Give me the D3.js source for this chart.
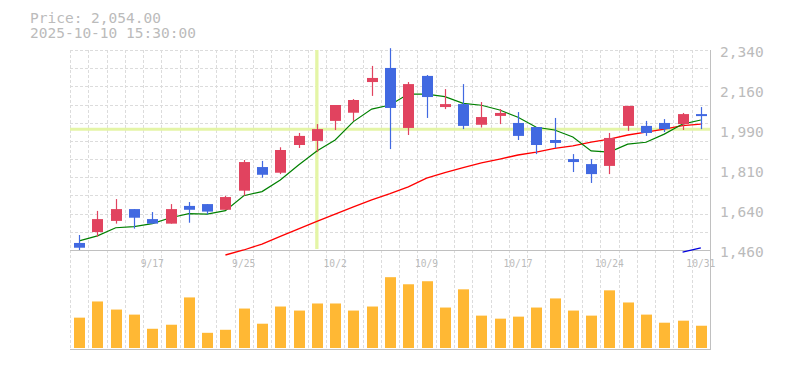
<!DOCTYPE html>
<html>
<head>
<meta charset="utf-8">
<script src="https://cdn.jsdelivr.net/npm/d3@7"></script>
<style>
  body { margin: 0; background: #fff; }
  text { font-family: "DejaVu Sans Mono", "Liberation Mono", monospace; fill: #bbbbbb; }
</style>
</head>
<body>
<svg id="chart"></svg>
<script>
// trading days
var dates = ["9/10","9/11","9/12","9/16","9/17","9/18","9/19","9/22","9/24","9/25","9/26","9/29","9/30",
    "10/1","10/2","10/3","10/6","10/7","10/8","10/9","10/10","10/14","10/15","10/16","10/17",
    "10/20","10/21","10/22","10/23","10/24","10/27","10/28","10/29","10/30","10/31"];

var open  = [1491,1539,1588,1640,1596,1576,1654,1662,1637,1721,1825,1800,1922,1940,2028,2064,2199,2261,1997,2226,2089,2102,2011,2050,2019,2001,1944,1860,1838,1830,2006,2006,2019,2014,2058];
var high  = [1526,1632,1684,1640,1627,1662,1671,1662,1698,1856,1852,1912,1975,2014,2098,2124,2270,2348,2199,2230,2168,2190,2111,2080,2067,2001,2041,1882,1860,1975,2094,2028,2036,2063,2089];
var low   = [1460,1519,1576,1554,1576,1576,1580,1617,1637,1699,1778,1794,1909,1891,1988,2028,2138,1904,1966,2041,2080,1992,1999,2014,1944,1882,1909,1803,1755,1794,1984,1962,1979,1988,1992];
var close = [1470,1596,1640,1602,1576,1640,1637,1629,1693,1847,1791,1900,1962,1992,2098,2120,2217,2085,2190,2133,2102,2006,2045,2063,1962,1922,1931,1847,1794,1953,2094,1975,1992,2058,2054];

// moving averages (null = not drawn)
var maShort = [1500,1522,1558,1563,1576,1602,1620,1618,1633,1699,1717,1768,1834,1896,1944,2025,2080,2098,2146,2146,2135,2105,2097,2076,2044,2000,1988,1957,1896,1891,1926,1934,1970,2014,2032];
var maMid   = [null,null,null,null,null,null,null,null,1438,1460,1486,1520,1553,1586,1618,1650,1681,1708,1738,1776,1800,1822,1843,1860,1878,1891,1907,1918,1935,1948,1966,1979,1992,2007,2014];
var maLong  = [null,null,null,null,null,null,null,null,null,null,null,null,null,null,null,null,null,null,null,null,null,null,null,null,null,null,null,null,null,null,null,null,null,1451,1469];

var volume = [310,470,390,340,200,240,510,160,190,400,250,420,380,450,450,380,420,710,640,670,410,590,330,300,320,410,500,380,330,580,460,340,260,280,230];

var priceTicks = [1460,1636,1812,1988,2164,2340];
var priceTickLabels = ["1,460","1,640","1,810","1,990","2,160","2,340"];
var dateLabels = ["9/17","9/25","10/2","10/9","10/17","10/24","10/31"];

var titleLines = ["Price: 2,054.00", "2025-10-10 15:30:00"];
var crossDate = "10/1";
var crossPrice = 1991;

var data = dates.map(function(d, i) {
    return {date: d, open: open[i], high: high[i], low: low[i], close: close[i],
            ma1: maShort[i], ma2: maMid[i], ma3: maLong[i], vol: volume[i]};
});

// dimensions
var W = 785, H = 370;
var left = 70, right = 710;
var priceTop = 50, priceBottom = 250;
var volTop = 260, volBottom = 349;

var svg = d3.select("#chart").attr("width", W).attr("height", H);

var xScale = d3.scaleBand().domain(dates).range([left, right]).padding(0);
var bw = xScale.bandwidth();
var cx = function(d) { return xScale(d) + bw / 2; };

var yScale = d3.scaleLinear().domain([1460, 2340]).range([priceBottom, priceTop]);
var vScale = d3.scaleLinear().domain([0, 880]).range([volBottom, volTop]);

// grid
var grid = svg.append("g")
    .attr("stroke", "#dcdcdc")
    .attr("stroke-dasharray", "3,2")
    .attr("shape-rendering", "crispEdges");

grid.selectAll(".hgrid")
    .data(d3.range(1460, 2341, 80))
    .enter().append("line")
    .attr("x1", left).attr("x2", right)
    .attr("y1", function(d) { return Math.round(yScale(d)) + 0.5; })
    .attr("y2", function(d) { return Math.round(yScale(d)) + 0.5; });

grid.selectAll(".vgrid")
    .data(dates)
    .enter().append("line")
    .attr("x1", function(d) { return Math.round(xScale(d)) + 0.5; })
    .attr("x2", function(d) { return Math.round(xScale(d)) + 0.5; })
    .attr("y1", priceTop).attr("y2", volBottom);

// crosshair
svg.append("line")
    .attr("x1", left).attr("x2", right)
    .attr("y1", yScale(crossPrice)).attr("y2", yScale(crossPrice))
    .attr("stroke", "#e4f5a6").attr("stroke-width", 3);
svg.append("line")
    .attr("x1", cx(crossDate)).attr("x2", cx(crossDate))
    .attr("y1", priceTop).attr("y2", priceBottom - 1)
    .attr("stroke", "#e4f5a6").attr("stroke-width", 3.3);

// axes frame
var frame = svg.append("g").attr("stroke", "#c0c0c0").attr("shape-rendering", "crispEdges");
frame.append("line").attr("x1", left).attr("x2", right).attr("y1", priceBottom + 0.5).attr("y2", priceBottom + 0.5);
frame.append("line").attr("x1", left).attr("x2", right + 1).attr("y1", volBottom + 0.5).attr("y2", volBottom + 0.5);
frame.append("line").attr("x1", right + 0.5).attr("x2", right + 0.5).attr("y1", priceTop).attr("y2", volBottom);

// moving averages
function maLine(key, color, width) {
    svg.append("path")
        .datum(data)
        .attr("fill", "none")
        .attr("stroke", color)
        .attr("stroke-width", width)
        .attr("d", d3.line()
            .defined(function(d) { return d[key] != null; })
            .x(function(d) { return cx(d.date); })
            .y(function(d) { return yScale(d[key]); }));
}
maLine("ma2", "#ff0000", 1.3);
maLine("ma1", "#008000", 1.2);
maLine("ma3", "#0000dd", 1.3);

// candles
var upColor = "#e1435f", downColor = "#4169e1";
var candles = svg.append("g").selectAll("g")
    .data(data)
    .enter().append("g")
    .attr("fill", function(d) { return d.close >= d.open ? upColor : downColor; })
    .attr("stroke", function(d) { return d.close >= d.open ? upColor : downColor; });

candles.append("line")
    .attr("x1", function(d) { return Math.round(cx(d.date)) + 0.5; })
    .attr("x2", function(d) { return Math.round(cx(d.date)) + 0.5; })
    .attr("y1", function(d) { return yScale(d.high); })
    .attr("y2", function(d) { return yScale(d.low); })
    .attr("stroke-width", 1.2);

candles.append("rect")
    .attr("stroke", "none")
    .attr("x", function(d) { return Math.round(cx(d.date)) + 0.5 - 5.5; })
    .attr("width", 11)
    .attr("y", function(d) { return yScale(Math.max(d.open, d.close)); })
    .attr("height", function(d) { return Math.max(2, Math.abs(yScale(d.open) - yScale(d.close))); });

// volume
svg.append("g").selectAll("rect")
    .data(data)
    .enter().append("rect")
    .attr("fill", "#ffb834")
    .attr("x", function(d) { return Math.round(cx(d.date)) + 0.5 - 5.5; })
    .attr("width", 11)
    .attr("y", function(d) { return vScale(d.vol); })
    .attr("height", function(d) { return volBottom - 1 - vScale(d.vol); });

// right price labels
svg.append("g").selectAll("text")
    .data(priceTicks)
    .enter().append("text")
    .attr("x", 720)
    .attr("y", function(d) { return yScale(d) + 7; })
    .style("font-size", "14.5px")
    .text(function(d, i) { return priceTickLabels[i]; });

// date labels
svg.append("g").selectAll("text")
    .data(dateLabels)
    .enter().append("text")
    .attr("x", function(d) { return cx(d); })
    .attr("y", 267)
    .attr("text-anchor", "middle")
    .attr("textLength", function(d) { return d.length * 5.8; })
    .attr("lengthAdjust", "spacingAndGlyphs")
    .style("font-size", "11px")
    .text(function(d) { return d; });

// title
svg.append("g").selectAll("text")
    .data(titleLines)
    .enter().append("text")
    .attr("x", 30)
    .attr("y", function(d, i) { return 23 + i * 15; })
    .style("font-size", "14.5px")
    .text(function(d) { return d; });
</script>
</body>
</html>
